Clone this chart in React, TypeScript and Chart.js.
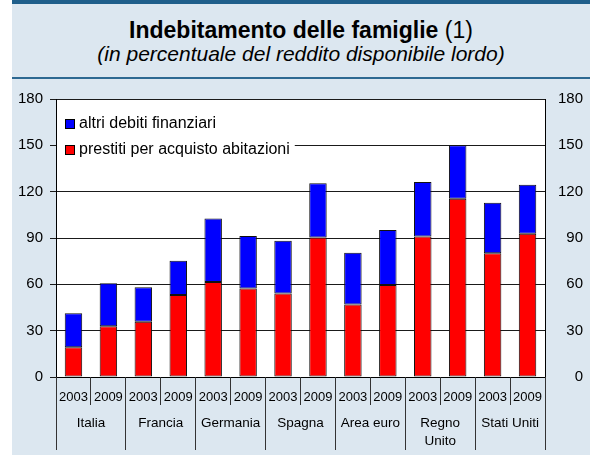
import React, { useEffect, useRef } from "react";
import { Chart, registerables } from "chart.js";

Chart.register(...registerables);

// ---- data ----
const countries: (string | string[])[] = [
  "Italia",
  "Francia",
  "Germania",
  "Spagna",
  "Area euro",
  ["Regno", "Unito"],
  "Stati Uniti",
];
const years = ["2003", "2009"];
const housingLoans = [19.2, 32.8, 35.8, 53.1, 61.5, 57.3, 54.0, 90.4, 47.0, 59.6, 90.9, 115.4, 80.2, 92.8];
const otherDebts = [22.1, 27.9, 22.3, 22.1, 41.1, 34.0, 34.2, 35.0, 33.5, 35.6, 35.3, 34.6, 32.7, 31.6];
const seriesLabels = ["prestiti per acquisto abitazioni", "altri debiti finanziari"];
const yMin = 0;
const yMax = 180;
const yStep = 30;
const titleMain = "Indebitamento delle famiglie";
const titleNote = "(1)";
const subtitle = "(in percentuale del reddito disponibile lordo)";

const FONT = "'Liberation Sans', Arial, Helvetica, sans-serif";
const PANEL = "#dce7f0";
const DARK = "#1f5f8b";

const crisp = (v: number) => Math.round(v - 0.5) + 0.5;

const decorPlugin = {
  id: "decor",
  beforeDraw(chart: any) {
    const { ctx, chartArea: a } = chart;
    ctx.save();
    ctx.fillStyle = "#ffffff";
    ctx.fillRect(a.left, a.top, a.right - a.left, a.bottom - a.top);
    ctx.restore();
  },
  afterDraw(chart: any) {
    const { ctx, chartArea: a } = chart;
    const xs = chart.scales.x;
    const n = chart.data.labels.length;
    ctx.save();
    // separators of the two-level category axis
    ctx.strokeStyle = "#333333";
    ctx.lineWidth = 1;
    const boundary = (i: number) =>
      i === 0 ? a.left : i === n ? a.right : (xs.getPixelForValue(i - 1) + xs.getPixelForValue(i)) / 2;
    for (let i = 0; i <= n; i++) {
      const bx = crisp(boundary(i));
      const long = i % years.length === 0;
      ctx.beginPath();
      ctx.moveTo(bx, a.bottom);
      ctx.lineTo(bx, a.bottom + (long ? 73 : 28));
      ctx.stroke();
    }
    // country labels
    ctx.fillStyle = "#000";
    ctx.font = `13.5px ${FONT}`;
    ctx.textAlign = "center";
    ctx.textBaseline = "middle";
    countries.forEach((c, k) => {
      const cx = (xs.getPixelForValue(k * 2) + xs.getPixelForValue(k * 2 + 1)) / 2;
      const lines = Array.isArray(c) ? c : [c];
      lines.forEach((t, j) => ctx.fillText(t, cx, a.bottom + 46 + j * 18));
    });
    // legend inside plot area
    const ds = chart.data.datasets;
    const items = [ds[1], ds[0]];
    ctx.font = `16px ${FONT}`;
    const lx = a.left + 9;
    const tx = lx + 14;
    const maxW = Math.max(...items.map((d: any) => ctx.measureText(d.label).width));
    ctx.fillStyle = "#fff";
    ctx.fillRect(a.left + 1, a.top + 10, tx + maxW + 5 - (a.left + 1), 52);
    items.forEach((d: any, j: number) => {
      const cy = a.top + 25 + j * 26;
      ctx.fillStyle = d.backgroundColor;
      ctx.fillRect(lx, cy - 5, 10, 10);
      ctx.strokeStyle = "#000";
      ctx.strokeRect(lx + 0.5, cy - 4.5, 9, 9);
      ctx.fillStyle = "#000";
      ctx.textAlign = "left";
      ctx.textBaseline = "middle";
      ctx.fillText(d.label, tx, cy);
    });
    ctx.restore();
  },
};

function BarChart() {
  const ref = useRef<HTMLCanvasElement | null>(null);
  useEffect(() => {
    if (!ref.current) return;
    Chart.defaults.font.family = FONT;
    Chart.defaults.color = "#000";
    const labels = countries.flatMap(() => years);
    const chart = new Chart(ref.current, {
      type: "bar",
      data: {
        labels,
        datasets: [
          {
            label: seriesLabels[0],
            data: housingLoans,
            backgroundColor: "#ff0000",
            borderColor: "#111111",
            borderWidth: 1,
            borderSkipped: false,
            barPercentage: 0.5,
            categoryPercentage: 1,
          },
          {
            label: seriesLabels[1],
            data: otherDebts,
            backgroundColor: "#0000ff",
            borderColor: "#111111",
            borderWidth: 1,
            borderSkipped: false,
            barPercentage: 0.5,
            categoryPercentage: 1,
          },
        ],
      },
      options: {
        animation: false,
        responsive: true,
        maintainAspectRatio: false,
        layout: { padding: { top: 99, right: 7, bottom: 0, left: 0 } },
        plugins: {
          legend: { display: false },
          title: { display: false },
          tooltip: { enabled: false },
        },
        scales: {
          x: {
            stacked: true,
            grid: { display: false, drawTicks: false },
            border: { display: true, color: "#000" },
            ticks: {
              autoSkip: false,
              maxRotation: 0,
              minRotation: 0,
              padding: 13,
              color: "#000",
              font: { size: 13, family: FONT },
            },
            afterFit: (s: any) => {
              s.height = 78;
            },
          },
          y: {
            stacked: true,
            position: "left",
            min: yMin,
            max: yMax,
            ticks: { stepSize: yStep, color: "#000", padding: 7, font: { size: 15, family: FONT } },
            grid: { color: "#1a1a1a", lineWidth: 1, tickLength: 6 },
            border: { color: "#000" },
            afterFit: (s: any) => {
              s.width = 56;
            },
          },
          y2: {
            position: "right",
            min: yMin,
            max: yMax,
            ticks: { stepSize: yStep, color: "#000", crossAlign: "far", font: { size: 15, family: FONT } },
            grid: { display: false, drawTicks: false },
            border: { display: true, color: "#000" },
            afterFit: (s: any) => {
              s.width = 38;
            },
          },
        },
      } as any,
      plugins: [decorPlugin],
    });
    return () => chart.destroy();
  }, []);
  return (
    <div style={{ position: "absolute", left: 0, top: 0, width: 590, height: 455 }}>
      <canvas ref={ref} />
    </div>
  );
}

export default function App() {
  return (
    <div
      style={{
        position: "absolute",
        left: 0,
        top: 0,
        width: 590,
        height: 455,
        background: "#fff",
        overflow: "hidden",
        fontFamily: FONT,
      }}
    >
      <div style={{ position: "absolute", left: 12, top: 0, width: 578, height: 4, background: DARK }} />
      <div style={{ position: "absolute", left: 12, top: 4, width: 578, height: 73, background: PANEL }} />
      <div style={{ position: "absolute", left: 12, top: 77, width: 578, height: 2, background: "#2d6992" }} />
      <div style={{ position: "absolute", left: 12, top: 79, width: 578, height: 376, background: PANEL }} />
      <div
        style={{
          position: "absolute",
          left: 12,
          top: 18,
          width: 578,
          textAlign: "center",
          fontWeight: "bold",
          fontSize: 23,
          lineHeight: "24px",
          color: "#000",
          whiteSpace: "nowrap",
        }}
      >
        {titleMain} <span style={{ fontWeight: "normal" }}>{titleNote}</span>
      </div>
      <div
        style={{
          position: "absolute",
          left: 12,
          top: 42,
          width: 578,
          textAlign: "center",
          fontStyle: "italic",
          fontSize: 21,
          lineHeight: "24px",
          color: "#000",
          whiteSpace: "nowrap",
        }}
      >
        {subtitle}
      </div>
      <BarChart />
    </div>
  );
}
